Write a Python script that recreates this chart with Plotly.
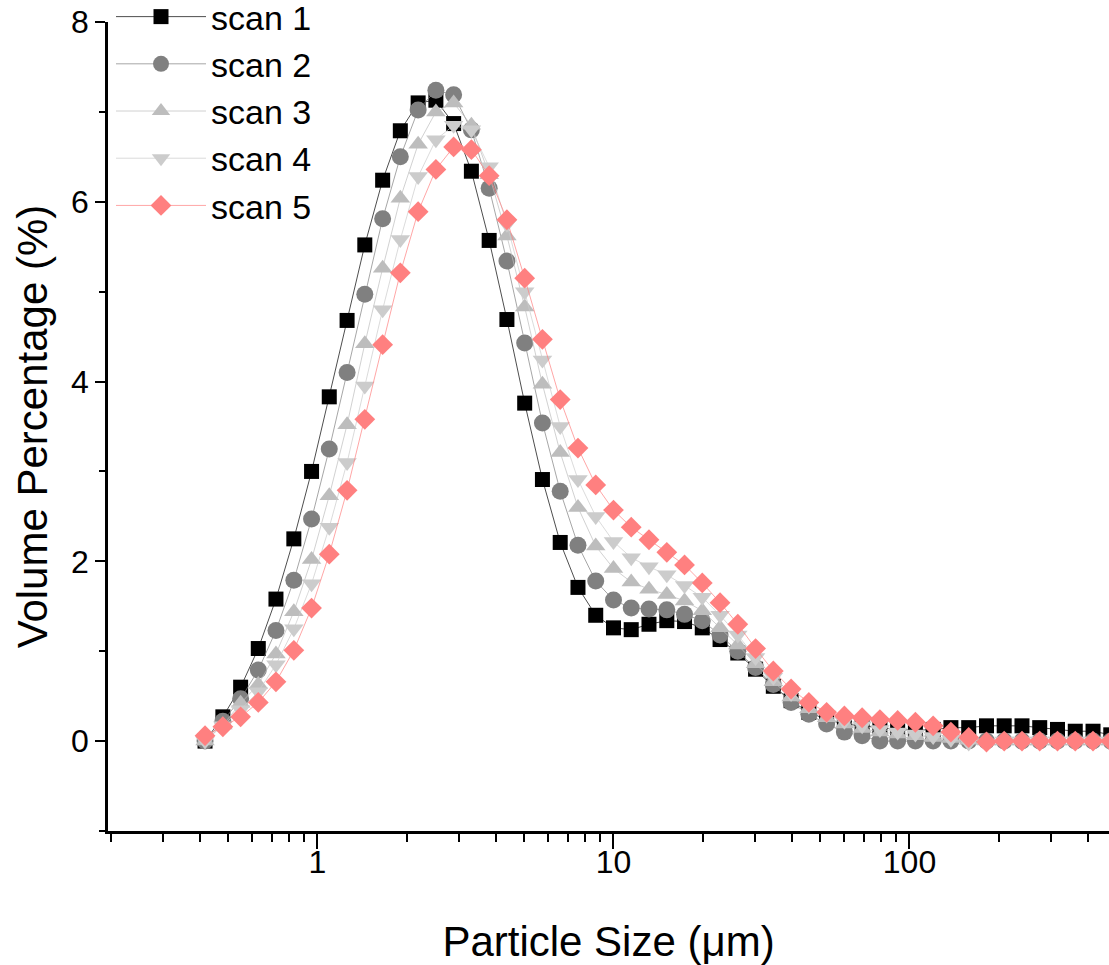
import plotly.graph_objects as go

# Particle size bins (µm)
size_um = [0.417, 0.479, 0.550, 0.631, 0.724, 0.832, 0.955, 1.096, 1.259, 1.445,
           1.660, 1.905, 2.188, 2.512, 2.884, 3.311, 3.802, 4.365, 5.012, 5.754,
           6.607, 7.586, 8.710, 10.00, 11.48, 13.18, 15.14, 17.38, 19.95, 22.91,
           26.30, 30.20, 34.67, 39.81, 45.71, 52.48, 60.26, 69.18, 79.43, 91.20,
           104.7, 120.2, 138.0, 158.5, 182.0, 208.9, 239.9, 275.4, 316.2, 363.1,
           416.9, 478.6]

scan1 = [0.0, 0.27, 0.60, 1.03, 1.58, 2.25, 3.00, 3.83, 4.68, 5.52,
         6.24, 6.79, 7.10, 7.13, 6.87, 6.34, 5.57, 4.69, 3.76, 2.91,
         2.21, 1.71, 1.40, 1.26, 1.24, 1.30, 1.34, 1.33, 1.26, 1.13,
         0.98, 0.80, 0.61, 0.45, 0.32, 0.24, 0.19, 0.17, 0.15, 0.13,
         0.12, 0.13, 0.15, 0.15, 0.17, 0.17, 0.17, 0.15, 0.13, 0.11,
         0.11, 0.07]
scan2 = [0.0, 0.22, 0.47, 0.79, 1.23, 1.79, 2.47, 3.25, 4.10, 4.97,
         5.81, 6.50, 7.02, 7.24, 7.19, 6.80, 6.15, 5.34, 4.43, 3.54,
         2.78, 2.18, 1.78, 1.57, 1.48, 1.47, 1.46, 1.41, 1.34, 1.18,
         1.00, 0.82, 0.63, 0.43, 0.30, 0.19, 0.10, 0.06, 0.0, 0.0,
         0.0, 0.0, 0.0, 0.0, 0.0, 0.0, 0.0, 0.0, 0.0, 0.0,
         0.0, 0.0]
scan3 = [0.0, 0.18, 0.42, 0.63, 0.97, 1.44, 2.02, 2.73, 3.52, 4.42,
         5.26, 6.04, 6.64, 7.00, 7.10, 6.85, 6.30, 5.62, 4.83, 3.97,
         3.21, 2.60, 2.17, 1.92, 1.77, 1.69, 1.63, 1.56, 1.45, 1.26,
         1.07, 0.86, 0.66, 0.49, 0.36, 0.26, 0.19, 0.14, 0.10, 0.08,
         0.06, 0.04, 0.03, 0.01, 0.0, 0.0, 0.0, 0.0, 0.0, 0.0,
         0.0, 0.0]
scan4 = [0.0, 0.17, 0.35, 0.55, 0.85, 1.25, 1.75, 2.38, 3.10, 3.95,
         4.80, 5.58, 6.28, 6.69, 6.85, 6.80, 6.39, 5.75, 5.00, 4.24,
         3.50, 2.91, 2.50, 2.22, 2.04, 1.94, 1.85, 1.73, 1.60, 1.40,
         1.18, 0.93, 0.71, 0.53, 0.39, 0.29, 0.22, 0.17, 0.13, 0.10,
         0.08, 0.05, 0.02, -0.02, -0.02, 0.0, 0.0, 0.0, 0.0, 0.0,
         0.0, 0.0]
scan5 = [0.06, 0.16, 0.27, 0.43, 0.66, 1.01, 1.48, 2.08, 2.79, 3.58,
         4.41, 5.21, 5.89, 6.36, 6.61, 6.58, 6.29, 5.80, 5.15, 4.47,
         3.80, 3.26, 2.85, 2.57, 2.38, 2.24, 2.10, 1.96, 1.76, 1.54,
         1.30, 1.03, 0.78, 0.58, 0.43, 0.32, 0.28, 0.26, 0.24, 0.23,
         0.21, 0.17, 0.10, 0.04, -0.01, 0.0, 0.0, 0.0, 0.0, 0.0,
         0.0, 0.0]

names = ["scan 1", "scan 2", "scan 3", "scan 4", "scan 5"]
series = [scan1, scan2, scan3, scan4, scan5]
colors = ["#000000", "#808080", "#bdbdbd", "#cccccc", "#ff8080"]
symbols = ["square", "circle", "triangle-up", "triangle-down", "diamond"]
msizes = [15, 17, 17, 17, 16]

fig = go.Figure()
for nm, ys, c, s, ms in zip(names, series, colors, symbols, msizes):
    fig.add_trace(go.Scatter(
        x=size_um, y=ys, name=nm, mode="lines+markers",
        line=dict(color=c, width=0.7),
        marker=dict(symbol=s, size=ms, color=c, line=dict(width=0)),
    ))

minor_x = [m * 10 ** e for e in (-1, 0, 1, 2) for m in range(2, 10) if 0.19 < m * 10 ** e < 480]

font_main = "Arial, Liberation Sans, sans-serif"
fig.update_layout(
    width=1109, height=965,
    margin=dict(l=108, r=0, t=22, b=134, autoexpand=False),
    plot_bgcolor="white", paper_bgcolor="white",
    font=dict(family=font_main, color="black"),
    showlegend=True,
    legend=dict(
        x=0.003, y=1.042, xanchor="left", yanchor="top",
        font=dict(size=34, family=font_main),
        bgcolor="rgba(0,0,0,0)", itemwidth=90,
    ),
    xaxis=dict(
        type="log", range=[-0.7077, 2.674],
        showline=True, linecolor="black", linewidth=2.5,
        showgrid=False, zeroline=False,
        ticks="outside", ticklen=15, tickwidth=2, tickcolor="black",
        tickvals=[1, 10, 100], ticktext=["1", "10", "100"],
        tickfont=dict(size=32), ticklabelstandoff=-14,
        minor=dict(ticks="outside", ticklen=8, tickwidth=2, tickcolor="black",
                   tickvals=minor_x, showgrid=False),
        title=dict(text="Particle Size (μm)", font=dict(size=42), standoff=50),
    ),
    yaxis=dict(
        range=[-1, 8],
        showline=True, linecolor="black", linewidth=2.5,
        showgrid=False, zeroline=False,
        ticks="outside", ticklen=10, tickwidth=2, tickcolor="black",
        tickvals=[0, 2, 4, 6, 8],
        tickfont=dict(size=32),
        minor=dict(ticks="outside", ticklen=6, tickwidth=2, tickcolor="black",
                   tickvals=[-1, 1, 3, 5, 7], showgrid=False),
        title=dict(text="Volume Percentage (%)", font=dict(size=42), standoff=11),
    ),
)

fig.write_html("out.html")
